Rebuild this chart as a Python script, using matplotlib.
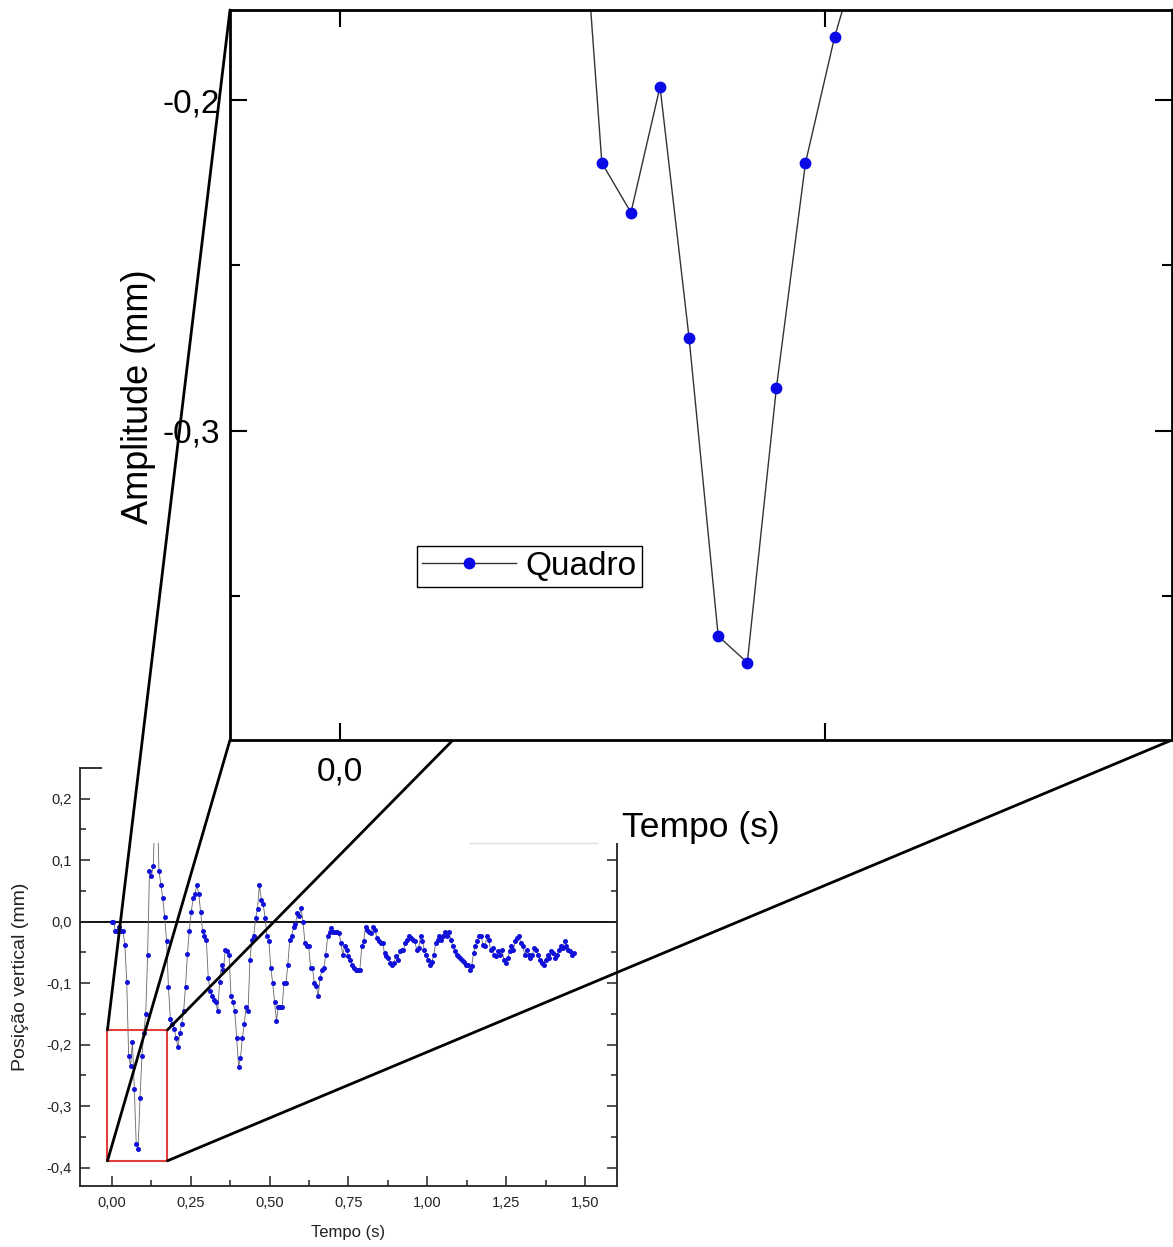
import numpy as np
import matplotlib
matplotlib.use("Agg")
import matplotlib.pyplot as plt
from matplotlib.patches import Rectangle, ConnectionPatch
from matplotlib.lines import Line2D
from matplotlib.ticker import FixedLocator, FixedFormatter

plt.rcParams['font.family'] = ['Liberation Sans', 'DejaVu Sans']

# ---------------- data ----------------
frame_interval = 0.006  # s between video frames
posicao = [
    0.000, 0.000, -0.015, -0.015, -0.008, -0.015, -0.015, -0.038, -0.098, -0.219,
    -0.234, -0.196, -0.272, -0.362, -0.370, -0.287, -0.219, -0.181, -0.151, -0.055,
    0.083, 0.075, 0.090, 0.200, 0.200, 0.083, 0.060, 0.038, 0.008, -0.032,
    -0.106, -0.159, -0.166, -0.174, -0.189, -0.204, -0.181, -0.166, -0.146, -0.106,
    -0.053, -0.015, 0.015, 0.038, 0.045, 0.060, 0.045, 0.015, -0.015, -0.023,
    -0.030, -0.091, -0.113, -0.121, -0.128, -0.131, -0.146, -0.098, -0.070, -0.078,
    -0.046, -0.048, -0.054, -0.121, -0.130, -0.146, -0.189, -0.236, -0.222, -0.189,
    -0.166, -0.138, -0.146, -0.062, -0.030, -0.023, 0.006, 0.021, 0.060, 0.036,
    0.028, 0.006, -0.024, -0.032, -0.075, -0.100, -0.131, -0.161, -0.138, -0.138,
    -0.138, -0.100, -0.100, -0.070, -0.029, -0.024, -0.008, -0.004, 0.014, 0.009,
    0.022, 0.000, -0.035, -0.040, -0.040, -0.075, -0.075, -0.100, -0.105, -0.121,
    -0.092, -0.078, -0.075, -0.054, -0.024, -0.016, -0.010, -0.016, -0.016, -0.016,
    -0.018, -0.035, -0.054, -0.040, -0.046, -0.056, -0.062, -0.070, -0.075, -0.078,
    -0.078, -0.078, -0.040, -0.032, -0.008, -0.013, -0.016, -0.018, -0.008, -0.013,
    -0.027, -0.032, -0.035, -0.035, -0.051, -0.056, -0.059, -0.067, -0.070, -0.067,
    -0.056, -0.062, -0.048, -0.046, -0.046, -0.035, -0.029, -0.024, -0.027, -0.029,
    -0.032, -0.046, -0.043, -0.024, -0.032, -0.046, -0.054, -0.062, -0.070, -0.065,
    -0.054, -0.035, -0.029, -0.024, -0.029, -0.024, -0.016, -0.024, -0.016, -0.029,
    -0.040, -0.048, -0.054, -0.056, -0.059, -0.062, -0.065, -0.070, -0.070, -0.078,
    -0.072, -0.051, -0.040, -0.032, -0.024, -0.024, -0.038, -0.040, -0.024, -0.030,
    -0.046, -0.043, -0.054, -0.056, -0.048, -0.054, -0.046, -0.062, -0.067, -0.059,
    -0.048, -0.040, -0.046, -0.032, -0.027, -0.024, -0.035, -0.040, -0.054, -0.046,
    -0.054, -0.059, -0.054, -0.043, -0.046, -0.054, -0.062, -0.067, -0.070, -0.062,
    -0.054, -0.059, -0.048, -0.051, -0.059, -0.054, -0.046, -0.040, -0.043, -0.032,
    -0.040, -0.046, -0.048, -0.054, -0.051,
]
tempo = np.arange(len(posicao)) * frame_interval

# main axes ticks
main_xticks = [0.0, 0.25, 0.5, 0.75, 1.0, 1.25, 1.5]
main_xticklabels = ["0,00", "0,25", "0,50", "0,75", "1,00", "1,25", "1,50"]
main_yticks = [-0.4, -0.3, -0.2, -0.1, 0.0, 0.1, 0.2]
main_yticklabels = ["-0,4", "-0,3", "-0,2", "-0,1", "0,0", "0,1", "0,2"]
main_xlim = (-0.10, 1.60)
main_ylim = (-0.43, 0.25)

# zoom region (red box)
zoom_x = (-0.013, 0.177)
zoom_y = (-0.389, -0.176)

# inset axes
inset_xlim = (-0.0227, 0.1716)
inset_ylim = (-0.3934, -0.1728)
inset_xticks = [0.0, 0.1]
inset_xticklabels = ["0,0", ""]
inset_yticks = [-0.3, -0.2]
inset_yticklabels = ["-0,3", "-0,2"]
inset_yminor = [-0.35, -0.25]

# ---------------- figure ----------------
W, H = 1173, 1247
fig = plt.figure(figsize=(W / 100, H / 100), dpi=100)
fig.patch.set_facecolor('white')

def fbox(x0, y0, x1, y1):
    return [x0 / W, 1 - y1 / H, (x1 - x0) / W, (y1 - y0) / H]

ax = fig.add_axes(fbox(80, 768, 617, 1186))
ax_in = fig.add_axes(fbox(230, 10, 1172, 740))
ax.set_zorder(0)
ax_in.set_zorder(3)

# ---- main small plot ----
ax.axhline(0, color='black', lw=1.3, zorder=1)
ax.plot(tempo, posicao, '-', color='#666666', lw=0.6, zorder=2)
ax.plot(tempo, posicao, 'o', ms=3.6, color='#1010d8', mec='none', zorder=3)
ax.add_patch(Rectangle((zoom_x[0], zoom_y[0]), zoom_x[1] - zoom_x[0], zoom_y[1] - zoom_y[0],
                       fill=False, ec='#e0403c', lw=1.5, zorder=4))
ax.set_xlim(*main_xlim)
ax.set_ylim(*main_ylim)
ax.xaxis.set_major_locator(FixedLocator(main_xticks))
ax.xaxis.set_major_formatter(FixedFormatter(main_xticklabels))
ax.xaxis.set_minor_locator(FixedLocator([0.125, 0.375, 0.625, 0.875, 1.125, 1.375]))
ax.yaxis.set_major_locator(FixedLocator(main_yticks))
ax.yaxis.set_major_formatter(FixedFormatter(main_yticklabels))
ax.yaxis.set_minor_locator(FixedLocator([-0.35, -0.25, -0.15, -0.05, 0.05, 0.15]))
ax.tick_params(which='both', direction='in', left=True, right=True, bottom=True, top=False,
               width=1.1, labelsize=10.5, colors='#222222')
ax.tick_params(which='major', length=7)
ax.tick_params(which='minor', length=4)
ax.tick_params(axis='x', pad=7)
ax.tick_params(axis='y', pad=6)
for s in ax.spines.values():
    s.set_linewidth(1.3)
    s.set_color('#222222')
ax.set_xlabel("Tempo (s)", fontsize=12, labelpad=11, color='#222222')
ax.set_ylabel("Posição vertical (mm)", fontsize=14, color='#222222')
ax.yaxis.set_label_coords(-0.095, 0.5)

# white layer hiding the top of the small plot
fig.add_artist(Rectangle((102 / W, 1 - 843 / H), (640 - 102) / W, (843 - 745) / H,
                         transform=fig.transFigure, facecolor='white', edgecolor='none', zorder=1))
fig.add_artist(Line2D([470 / W, 597 / W], [1 - 843 / H, 1 - 843 / H], transform=fig.transFigure,
                      color='#dddddd', lw=1, zorder=1.5))

# ---- inset ----
ax_in.plot(tempo, posicao, '-', color='#333333', lw=1.0, marker='o', ms=7.5,
           mfc='#0a0ae6', mec='#0a0ae6', label='Quadro')
ax_in.set_xlim(*inset_xlim)
ax_in.set_ylim(*inset_ylim)
ax_in.xaxis.set_major_locator(FixedLocator(inset_xticks))
ax_in.xaxis.set_major_formatter(FixedFormatter(inset_xticklabels))
ax_in.yaxis.set_major_locator(FixedLocator(inset_yticks))
ax_in.yaxis.set_major_formatter(FixedFormatter(inset_yticklabels))
ax_in.yaxis.set_minor_locator(FixedLocator(inset_yminor))
ax_in.tick_params(which='both', direction='in', left=True, right=True, bottom=True, top=True,
                  width=1.5, labelsize=24)
ax_in.tick_params(which='major', length=12)
ax_in.tick_params(which='minor', length=7)
ax_in.tick_params(axis='x', pad=12)
ax_in.tick_params(axis='y', pad=7)
for s in ax_in.spines.values():
    s.set_linewidth(2.0)
ax_in.set_xlabel("Tempo (s)", fontsize=25.5, labelpad=17)
ax_in.set_ylabel("Amplitude (mm)", fontsize=26)
ax_in.yaxis.set_label_coords(-0.079, 0.47)
leg = ax_in.legend(loc='lower left', bbox_to_anchor=(0.199, 0.2096), fontsize=24,
                   frameon=True, fancybox=False, edgecolor='black', framealpha=1,
                   borderpad=0.15, handlelength=2.8, handletextpad=0.3, borderaxespad=0,
                   numpoints=1)
leg.get_frame().set_linewidth(1.0)

# ---- connector lines ----
corners = [((zoom_x[0], zoom_y[1]), (0, 1)),
           ((zoom_x[0], zoom_y[0]), (0, 0)),
           ((zoom_x[1], zoom_y[1]), (1, 1)),
           ((zoom_x[1], zoom_y[0]), (1, 0))]
for a, b in corners:
    cp = ConnectionPatch(xyA=a, coordsA=ax.transData, xyB=b, coordsB=ax_in.transAxes,
                         color='black', lw=2.0, zorder=2)
    fig.add_artist(cp)

fig.savefig("out.png", dpi=100, facecolor='white')
